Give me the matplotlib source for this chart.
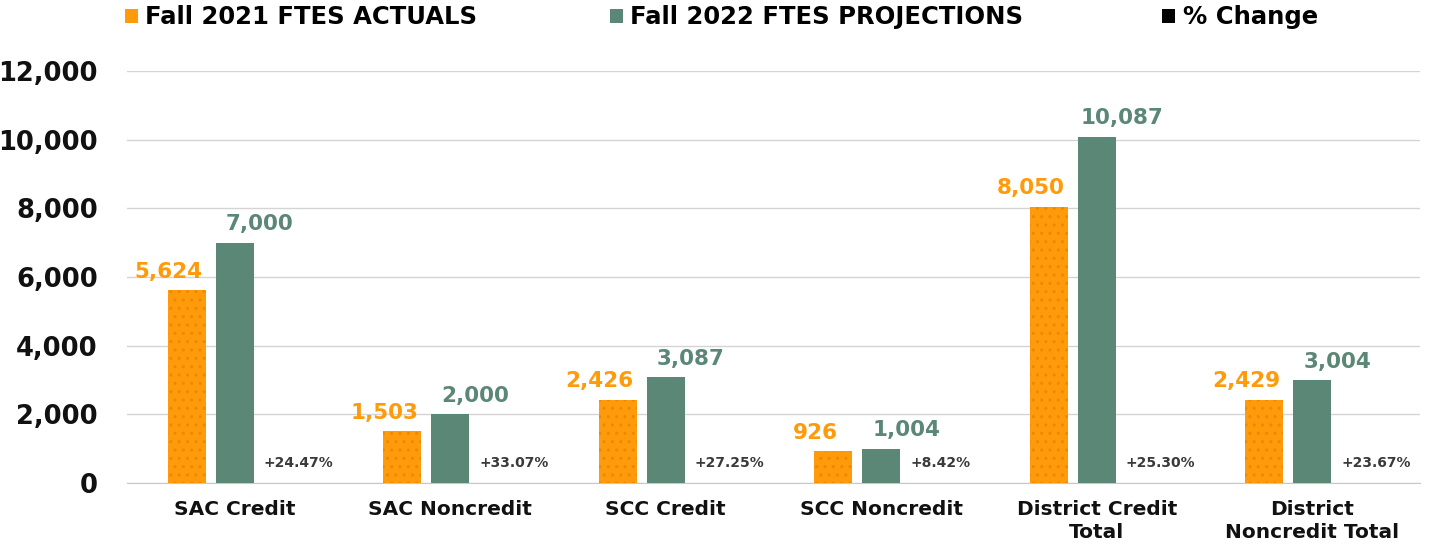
import matplotlib
matplotlib.use("Agg")
import matplotlib.pyplot as plt
import numpy as np
from matplotlib.patches import Patch

plt.rcParams['font.family'] = ['DejaVu Sans']
plt.rcParams['hatch.linewidth'] = 1.0

categories = ["SAC Credit", "SAC Noncredit", "SCC Credit", "SCC Noncredit",
              "District Credit\nTotal", "District\nNoncredit Total"]
fall2021 = [5624, 1503, 2426, 926, 8050, 2429]
fall2022 = [7000, 2000, 3087, 1004, 10087, 3004]
pct_change = [24.47, 33.07, 27.25, 8.42, 25.30, 23.67]
yticks = [0, 2000, 4000, 6000, 8000, 10000, 12000]

ORANGE = "#FF9A0A"
GREEN = "#5B8776"
DARK = "#3A3A3A"

fig = plt.figure(figsize=(14.35, 5.45), dpi=100)
ax = fig.add_axes([0.0885, 0.1138, 0.901, 0.756])

x = np.arange(len(categories))
w = 0.176
off = 0.223

ax.bar(x - off, fall2021, w, color=ORANGE, edgecolor="#E98A00", hatch='..', linewidth=0, zorder=3)
ax.bar(x, fall2022, w, color=GREEN, linewidth=0, zorder=3)
ax.bar(x + off, [p / 100 for p in pct_change], w, color="black", linewidth=0, zorder=3)

for xi, v in zip(x, fall2021):
    ax.annotate(f"{v:,}", (xi - off, v), xytext=(-13, 6), textcoords="offset points",
                ha="center", va="bottom", color=ORANGE, fontsize=15.5, fontweight="bold")
for xi, v in zip(x, fall2022):
    ax.annotate(f"{v:,}", (xi, v), xytext=(18, 6), textcoords="offset points",
                ha="center", va="bottom", color=GREEN, fontsize=15.5, fontweight="bold")
for xi, p in zip(x, pct_change):
    ax.annotate(f"+{p:.2f}%", (xi + off - w / 2, 0), xytext=(0, 9), textcoords="offset points",
                ha="left", va="bottom", color=DARK, fontsize=10, fontweight="bold")

ax.set_xlim(-0.5, len(categories) - 0.5)
ax.set_ylim(0, 12000)
ax.set_yticks(yticks)
ax.set_yticklabels([f"{t:,}" for t in yticks], fontsize=18.5, fontweight="bold", color="#111111")
ax.set_xticks(x)
ax.set_xticklabels(categories, fontsize=14.5, fontweight="bold", color="#111111", linespacing=1.3)
ax.tick_params(axis='y', length=0, pad=21)
ax.tick_params(axis='x', length=0, pad=12)
ax.grid(axis='y', color="#D4D4D4", linewidth=1, zorder=0)
for s in ["top", "right", "left"]:
    ax.spines[s].set_visible(False)
ax.spines["bottom"].set_color("#C8C8C8")

labels = ["Fall 2021 FTES ACTUALS", "Fall 2022 FTES PROJECTIONS", "% Change"]
colors = [ORANGE, GREEN, "black"]
xs = [0.080, 0.418, 0.803]
for lx, lab, c in zip(xs, labels, colors):
    fig.legend(handles=[Patch(facecolor=c, edgecolor='none')], labels=[lab],
               loc="center left", bbox_to_anchor=(lx, 0.968), frameon=False,
               prop={'weight': 'bold', 'size': 17.5}, handlelength=0.55, handleheight=0.55,
               handletextpad=0.3, borderaxespad=0)

fig.savefig("out.png", dpi=100)
